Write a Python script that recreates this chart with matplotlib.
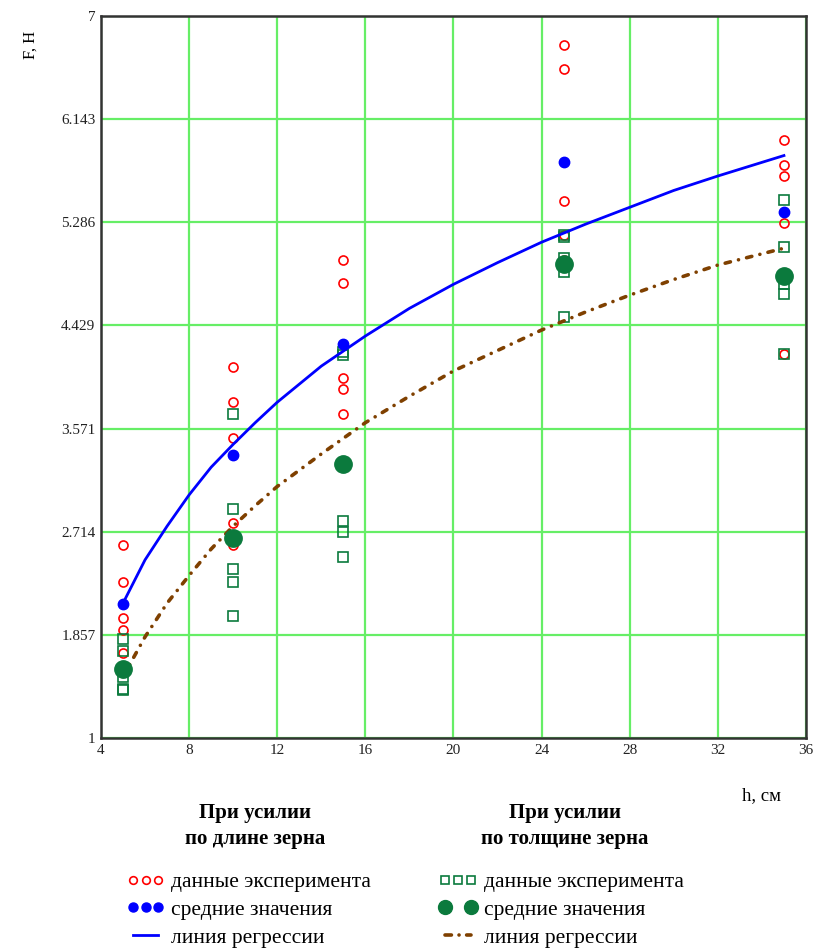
import matplotlib
matplotlib.use("Agg")
import matplotlib.pyplot as plt
from matplotlib.lines import Line2D
from matplotlib.legend_handler import HandlerLine2D

plt.rcParams['font.family'] = ['Liberation Serif', 'DejaVu Serif']

# Sample heights, cm
h_vals = [5, 10, 15, 25, 35]

# Force along the grain: individual tests and means, N
f_len_exp = [
    [2.60, 2.30, 2.00, 1.90, 1.71],
    [4.08, 3.79, 3.49, 2.79, 2.60],
    [4.97, 4.78, 3.99, 3.90, 3.69],
    [6.76, 6.56, 5.46, 5.18, 4.97],
    [5.97, 5.76, 5.67, 5.28, 4.19],
]
f_len_mean = [2.11, 3.35, 4.27, 5.79, 5.37]

# Force across the grain (thickness): individual tests and means, N
f_thk_exp = [
    [1.82, 1.72, 1.51, 1.41, 1.40],
    [3.69, 2.90, 2.40, 2.30, 2.01],
    [4.21, 4.18, 2.80, 2.71, 2.50],
    [5.18, 5.16, 4.99, 4.87, 4.50],
    [5.47, 5.08, 4.77, 4.69, 4.19],
]
f_thk_mean = [1.57, 2.66, 3.28, 4.94, 4.84]

# Regression curves
h_reg = [5, 6, 7, 8, 9, 10, 11, 12, 14, 16, 18, 20, 22, 24, 26, 28, 30, 32, 35]
f_len_reg = [2.12, 2.48, 2.76, 3.02, 3.25, 3.44, 3.62, 3.79, 4.09, 4.34,
             4.57, 4.77, 4.95, 5.12, 5.27, 5.41, 5.55, 5.67, 5.84]
f_thk_reg = [1.51, 1.84, 2.12, 2.35, 2.57, 2.76, 2.93, 3.09, 3.36, 3.62,
             3.84, 4.05, 4.22, 4.39, 4.54, 4.68, 4.81, 4.93, 5.07]

y_ticks = [1, 1.857, 2.714, 3.571, 4.429, 5.286, 6.143, 7]
y_ticklabels = ['1', '1.857', '2.714', '3.571', '4.429', '5.286', '6.143', '7']
x_ticks = [4, 8, 12, 16, 20, 24, 28, 32, 36]

RED = '#ff0000'
BLUE = '#0000ff'
GREEN = '#0b7a3d'
BROWN = '#7f4000'
dashdot = (0, (1.5, 2.3, 0.01, 2.3))

fig = plt.figure(figsize=(8.19, 9.5), dpi=100)
ax = fig.add_axes([0.1233, 0.2232, 0.8608, 0.76])

exp_x_len = [h for h, row in zip(h_vals, f_len_exp) for _ in row]
exp_y_len = [v for row in f_len_exp for v in row]
exp_x_thk = [h for h, row in zip(h_vals, f_thk_exp) for _ in row]
exp_y_thk = [v for row in f_thk_exp for v in row]

ax.plot(exp_x_len, exp_y_len, ls='none', marker='o', ms=6.5, mfc='none',
        mec=RED, mew=1.2, zorder=3)
ax.plot(exp_x_thk, exp_y_thk, ls='none', marker='s', ms=7, mfc='none',
        mec=GREEN, mew=1.2, zorder=3)
ax.plot(h_reg, f_len_reg, color=BLUE, lw=2, zorder=4)
ax.plot(h_reg, f_thk_reg, color=BROWN, lw=2.6, ls=dashdot,
        dash_capstyle='round', zorder=4)
ax.plot(h_vals, f_len_mean, ls='none', marker='o', ms=7.5, color=BLUE, zorder=5)
ax.plot(h_vals, f_thk_mean, ls='none', marker='o', ms=12.5, color=GREEN, zorder=5)

ax.set_xlim(4, 36)
ax.set_ylim(1, 7)
ax.set_xticks(x_ticks)
ax.set_yticks(y_ticks)
ax.set_yticklabels(y_ticklabels)
ax.tick_params(length=0, labelsize=11, pad=4, colors='#222222')
ax.grid(True, color='#66ee66', lw=1.6)
ax.set_axisbelow(True)
for s in ax.spines.values():
    s.set_color('#333333')
    s.set_linewidth(1.8)

fig.text(0.037, 0.953, 'F, H', rotation=90, fontsize=12, ha='center', va='center')
fig.text(0.93, 0.163, 'h, см', fontsize=13.5, ha='center', va='center')

fig.text(0.311, 0.1305, 'При усилии\nпо длине зерна', fontsize=15, fontweight='bold',
         ha='center', va='center', linespacing=1.35)
fig.text(0.690, 0.1305, 'При усилии\nпо толщине зерна', fontsize=15, fontweight='bold',
         ha='center', va='center', linespacing=1.35)

# Legends under the chart
h_red = Line2D([], [], ls='none', marker='o', ms=5.5, mfc='none', mec=RED, mew=1.2)
h_blue = Line2D([], [], ls='none', marker='o', ms=6.5, color=BLUE)
h_bline = Line2D([], [], color=BLUE, lw=2)
h_sq = Line2D([], [], ls='none', marker='s', ms=6, mfc='none', mec=GREEN, mew=1.2)
h_gdot = Line2D([], [], ls='none', marker='o', ms=10, color=GREEN)
h_brown = Line2D([], [], color=BROWN, lw=2.6, ls=(0, (1.78, 2.1, 0.01, 2.1)),
                 dash_capstyle='round')

common = dict(frameon=False, fontsize=15.5, handlelength=1.8, handletextpad=0.3,
              labelspacing=0.36, borderpad=0, borderaxespad=0)
labels = ['данные эксперимента', 'средние значения', 'линия регрессии']
fig.legend([h_red, h_blue, h_bline], labels, loc='upper left',
           bbox_to_anchor=(0.154, 0.082), numpoints=3, **common)
fig.legend([h_sq, h_gdot, h_brown], labels, loc='upper left',
           bbox_to_anchor=(0.536, 0.082), numpoints=3,
           handler_map={h_gdot: HandlerLine2D(numpoints=2)}, **common)

fig.savefig('out.png', dpi=100)
